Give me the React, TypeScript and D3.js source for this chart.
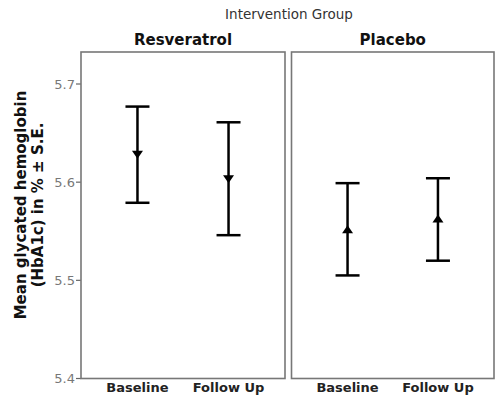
import React from "react";
import * as d3 from "d3";

const groups = ["Resveratrol", "Placebo"];
const timepoints = ["Baseline", "Follow Up"];
// mean, lower, upper per group per timepoint
const resveratrolMean = [5.628, 5.603];
const resveratrolLower = [5.579, 5.546];
const resveratrolUpper = [5.677, 5.661];
const placeboMean = [5.552, 5.563];
const placeboLower = [5.505, 5.520];
const placeboUpper = [5.599, 5.604];
const yTicks = [5.4, 5.5, 5.6, 5.7];

const W = 495;
const H = 396;
const top = 52;
const bottom = 378.5;
const panels = [
  { x0: 81, x1: 285 },
  { x0: 291.5, x1: 494 },
];

export default function App() {
  const y = d3.scaleLinear().domain([5.4, 5.7]).range([bottom, 84]);
  const data = [
    { mean: resveratrolMean, lo: resveratrolLower, hi: resveratrolUpper, dir: "down" },
    { mean: placeboMean, lo: placeboLower, hi: placeboUpper, dir: "up" },
  ];
  const font = "DejaVu Sans, Verdana, sans-serif";
  return (
    <svg
      width={W}
      height={H}
      style={{ position: "absolute", left: 0, top: 0, background: "#fff" }}
      fontFamily={font}
    >
      <text x={289} y={19} textAnchor="middle" fontSize={13.5} fill="#333">
        Intervention Group
      </text>
      {/* y axis title */}
      <g transform={`translate(0,${205}) rotate(-90)`}>
        <text x={0} y={26} textAnchor="middle" fontSize={15} fontWeight="bold" fill="#111">
          Mean glycated hemoglobin
        </text>
        <text x={0} y={43} textAnchor="middle" fontSize={15} fontWeight="bold" fill="#111">
          (HbA1c) in % ± S.E.
        </text>
      </g>
      {/* y ticks */}
      {yTicks.map((t) => (
        <g key={t}>
          <line x1={76} x2={81} y1={y(t)} y2={y(t)} stroke="#666" strokeWidth={1.2} />
          <text x={75} y={y(t) + 4.5} textAnchor="end" fontSize={13} fill="#777">
            {d3.format(".1f")(t)}
          </text>
        </g>
      ))}
      {panels.map((p, gi) => {
        const x = d3.scalePoint().domain(timepoints).range([p.x0, p.x1]).padding(0.62);
        const d = data[gi];
        return (
          <g key={gi}>
            <text
              x={(p.x0 + p.x1) / 2}
              y={45}
              textAnchor="middle"
              fontSize={15}
              fontWeight="bold"
              fill="#111"
            >
              {groups[gi]}
            </text>
            <rect
              x={p.x0}
              y={top}
              width={p.x1 - p.x0}
              height={bottom - top}
              fill="none"
              stroke="#777"
              strokeWidth={1.6}
            />
            {timepoints.map((tp, i) => {
              const cx = x(tp) as number;
              const my = y(d.mean[i]);
              const s = 5.5;
              const h = 4;
              const tri =
                d.dir === "down"
                  ? `M${cx - s},${my - h}L${cx + s},${my - h}L${cx},${my + h}Z`
                  : `M${cx - s},${my + h}L${cx + s},${my + h}L${cx},${my - h}Z`;
              return (
                <g key={tp}>
                  <line x1={cx} x2={cx} y1={y(d.hi[i])} y2={y(d.lo[i])} stroke="#000" strokeWidth={2.5} />
                  <line x1={cx - 12} x2={cx + 12} y1={y(d.hi[i])} y2={y(d.hi[i])} stroke="#000" strokeWidth={2.5} />
                  <line x1={cx - 12} x2={cx + 12} y1={y(d.lo[i])} y2={y(d.lo[i])} stroke="#000" strokeWidth={2.5} />
                  <path d={tri} fill="#000" />
                  <text x={cx} y={392} textAnchor="middle" fontSize={13} fontWeight={600} fill="#222">
                    {tp}
                  </text>
                </g>
              );
            })}
          </g>
        );
      })}
    </svg>
  );
}
